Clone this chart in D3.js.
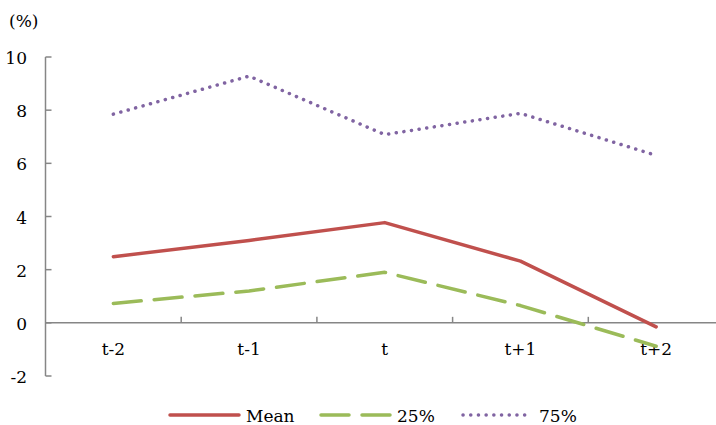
<!DOCTYPE html>
<html lang="en">
<head>
    <meta charset="UTF-8">
    <title>Mean and quartiles</title>
    <script src="https://d3js.org/d3.v7.min.js"></script>
    <style>
        body { margin: 0; background: #fff; }
        svg { display: block; }
        text { font-family: "DejaVu Serif", serif; font-size: 17px; fill: #000; }
        .axis-line { stroke: #868686; stroke-width: 1.5; fill: none; }
    </style>
</head>
<body>
    <svg width="716" height="425"></svg>

    <script>
        const categories = ["t-2", "t-1", "t", "t+1", "t+2"];
        const meanValues = [2.49, 3.1, 3.77, 2.32, -0.15];
        const p25Values = [0.73, 1.2, 1.9, 0.65, -0.88];
        const p75Values = [7.85, 9.28, 7.08, 7.88, 6.3];
        const yTicks = [-2, 0, 2, 4, 6, 8, 10];

        const series = [
            { name: "Mean", values: meanValues, color: "#C0504D", dash: null },
            { name: "25%", values: p25Values, color: "#9BBB59", dash: "28 13" },
            { name: "75%", values: p75Values, color: "#8064A2", dash: "0.1 7.6" }
        ];

        const svg = d3.select("svg");
        const left = 45.5, plotTop = 57, plotBottom = 376;
        const band = 135.7;

        const x = d3.scaleBand().domain(categories)
            .range([left, left + band * categories.length]);
        const y = d3.scaleLinear().domain([-2, 10]).range([plotBottom, plotTop]);

        // y axis
        svg.append("line").attr("class", "axis-line")
            .attr("x1", left).attr("x2", left)
            .attr("y1", y(10)).attr("y2", y(-2));
        svg.selectAll(".ytick").data(yTicks).enter()
            .append("line").attr("class", "axis-line")
            .attr("x1", left).attr("x2", left + 6)
            .attr("y1", d => y(d)).attr("y2", d => y(d));
        svg.selectAll(".ylabel").data(yTicks).enter()
            .append("text")
            .attr("x", 27).attr("y", d => y(d) + 7)
            .attr("text-anchor", "end")
            .text(d => d);
        svg.append("text").attr("x", 9).attr("y", 27).text("(%)");

        // zero line with category ticks
        svg.append("line").attr("class", "axis-line")
            .attr("x1", left).attr("x2", x.range()[1])
            .attr("y1", y(0)).attr("y2", y(0));
        svg.selectAll(".xtick").data(categories.slice(1)).enter()
            .append("line").attr("class", "axis-line")
            .attr("x1", d => x(d)).attr("x2", d => x(d))
            .attr("y1", y(0)).attr("y2", y(0) - 6);
        svg.selectAll(".xlabel").data(categories).enter()
            .append("text")
            .attr("x", d => x(d) + x.bandwidth() / 2)
            .attr("y", 355)
            .attr("text-anchor", "middle")
            .text(d => d);

        const line = d3.line()
            .x((d, i) => x(categories[i]) + x.bandwidth() / 2)
            .y(d => y(d));

        series.forEach(s => {
            svg.append("path")
                .attr("d", line(s.values))
                .attr("fill", "none")
                .attr("stroke", s.color)
                .attr("stroke-width", 3.5)
                .attr("stroke-linecap", "round")
                .attr("stroke-linejoin", "round")
                .attr("stroke-dasharray", s.dash);
        });

        // legend
        const legendX = [170, 321, 463];
        const legend = svg.selectAll(".legend").data(series).enter()
            .append("g").attr("transform", (d, i) => `translate(${legendX[i]},415)`);
        legend.append("line")
            .attr("x1", 0).attr("x2", 69)
            .attr("y1", 0).attr("y2", 0)
            .attr("stroke", d => d.color)
            .attr("stroke-width", 3.5)
            .attr("stroke-linecap", "round")
            .attr("stroke-dasharray", d => d.dash);
        legend.append("text")
            .attr("x", 76).attr("y", 7)
            .text(d => d.name);
    </script>
</body>
</html>
